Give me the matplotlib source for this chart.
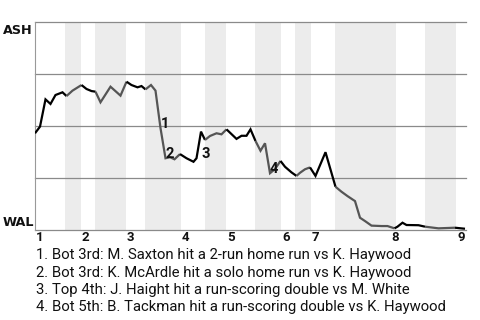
import matplotlib
matplotlib.use("Agg")
import matplotlib.pyplot as plt
import matplotlib.transforms as mtransforms

# ---- data ----
teams = ["ASH", "WAL"]  # top = ASH win, bottom = WAL win
play_x = [0, 1, 2.1, 3.1, 4.1, 5.5, 6.3, 7.5, 9.3, 10.3, 11.3, 12.1, 13.1, 15.1, 17.1,
          18.3, 19.3, 20.5, 21.3, 22.1, 23.2, 24.1, 25.1, 26.1, 27.0, 27.9, 29.0, 30.3,
          31.7, 32.3, 33.2, 34.0, 35.0, 36.3, 37.3, 38.3, 40.3, 41.3, 42.3, 43.1, 44.1,
          45.1, 46.0, 47.0, 48.0, 49.1, 50.0, 51.3, 52.3, 53.0, 54.0, 55.0, 56.1, 58.1,
          60.1, 61.3, 62.5, 64.0, 65.0, 66.0, 67.3, 69.3, 70.5, 71.9, 72.5, 73.5, 74.3,
          76.7, 78.0, 80.7, 84.0, 86.0]
ash_wp = [0.465, 0.497, 0.628, 0.606, 0.649, 0.662, 0.644, 0.670, 0.697, 0.678, 0.668,
          0.665, 0.614, 0.689, 0.646, 0.713, 0.697, 0.686, 0.692, 0.676, 0.697, 0.670,
          0.490, 0.345, 0.350, 0.340, 0.365, 0.345, 0.328, 0.345, 0.473, 0.433, 0.452,
          0.465, 0.460, 0.484, 0.438, 0.453, 0.453, 0.484, 0.428, 0.381, 0.417, 0.273,
          0.293, 0.332, 0.304, 0.277, 0.260, 0.275, 0.292, 0.301, 0.260, 0.374, 0.208,
          0.184, 0.163, 0.139, 0.059, 0.043, 0.021, 0.019, 0.019, 0.008, 0.016, 0.035,
          0.024, 0.023, 0.016, 0.008, 0.011, 0.006]
assert len(play_x) == len(ash_wp)
half_starts = [0, 6, 9.2, 12, 18.2, 22, 29.2, 34, 38.2, 44, 49.2, 52, 55.2, 60, 72.2, 78, 84.2]
game_end = 86.2
inning_labels = ["1", "2", "3", "4", "5", "6", "7", "8", "9"]
inning_label_x = [0, 9.2, 18.2, 29.2, 38.2, 49.2, 55.2, 71.0, 84.2]
event_idx = [22, 23, 30, 43]
event_text = [
    "1. Bot 3rd: M. Saxton hit a 2-run home run vs K. Haywood",
    "2. Bot 3rd: K. McArdle hit a solo home run vs K. Haywood",
    "3. Top 4th: J. Haight hit a run-scoring double vs M. White",
    "4. Bot 5th: B. Tackman hit a run-scoring double vs K. Haywood",
]

# ---- figure ----
W, H = 480, 320
fig = plt.figure(figsize=(W / 100, H / 100), dpi=100)
ax = fig.add_axes([35 / W, 1 - 230 / H, (466 - 35) / W, (230 - 22) / H])
ax.set_xlim(0, game_end)
ax.set_ylim(0, 1)
ax.set_xticks([])
ax.set_yticks([])
for s in ["top", "right", "bottom"]:
    ax.spines[s].set_visible(False)
ax.spines["left"].set_color("#999999")
ax.spines["left"].set_linewidth(0.8)

# bottom-half shading
bounds = half_starts + [game_end]
for i in range(len(half_starts)):
    if i % 2 == 1:
        ax.axvspan(bounds[i], bounds[i + 1], color="#ececec", lw=0, zorder=0)

for yv in [0, 0.25, 0.5, 0.75, 1.0]:
    ax.axhline(yv, color="#8a8a8a", lw=0.9, zorder=1, clip_on=False)


def half_of(xv):
    h = 0
    for i, b in enumerate(half_starts):
        if xv >= b:
            h = i
    return h


# line, colored by half inning (top = black, bottom = gray)
runs = []
for i in range(len(play_x) - 1):
    mid = (play_x[i] + play_x[i + 1]) / 2
    col = "#000000" if half_of(mid) % 2 == 0 else "#555555"
    if runs and runs[-1][0] == col:
        runs[-1][1].append(i + 1)
    else:
        runs.append([col, [i, i + 1]])
for col, idxs in runs:
    ax.plot([play_x[k] for k in idxs], [ash_wp[k] for k in idxs], color=col, lw=1.6,
            solid_joinstyle="miter", solid_capstyle="butt", zorder=3)

# event markers
for n, k in enumerate(event_idx):
    ax.text(play_x[k], min(ash_wp[k - 1], ash_wp[k]), str(n + 1), fontfamily="Roboto",
            fontweight="bold", fontsize=10.5, color="#111111", ha="left", va="baseline",
            zorder=4)

# team labels
fig.text(3 / W, 1 - 31 / H, teams[0], fontfamily="DejaVu Sans", fontweight="bold",
         fontsize=9.2, ha="left", va="center", color="#111111")
fig.text(3 / W, 1 - 222 / H, teams[1], fontfamily="DejaVu Sans", fontweight="bold",
         fontsize=9.2, ha="left", va="center", color="#111111")

# inning labels
trans = mtransforms.blended_transform_factory(ax.transData, fig.transFigure)
for lab, xv in zip(inning_labels, inning_label_x):
    ax.text(xv + 0.2, 1 - 241 / H, lab, transform=trans, fontfamily="Roboto",
            fontweight="bold", fontsize=9.5, ha="left", va="baseline", color="#111111")

# event descriptions
for n, t in enumerate(event_text):
    fig.text(36 / W, 1 - (259 + n * 17.5) / H, t, fontfamily="Roboto", fontsize=10.7,
             ha="left", va="baseline", color="#111111")

fig.savefig("out.png", dpi=100)
